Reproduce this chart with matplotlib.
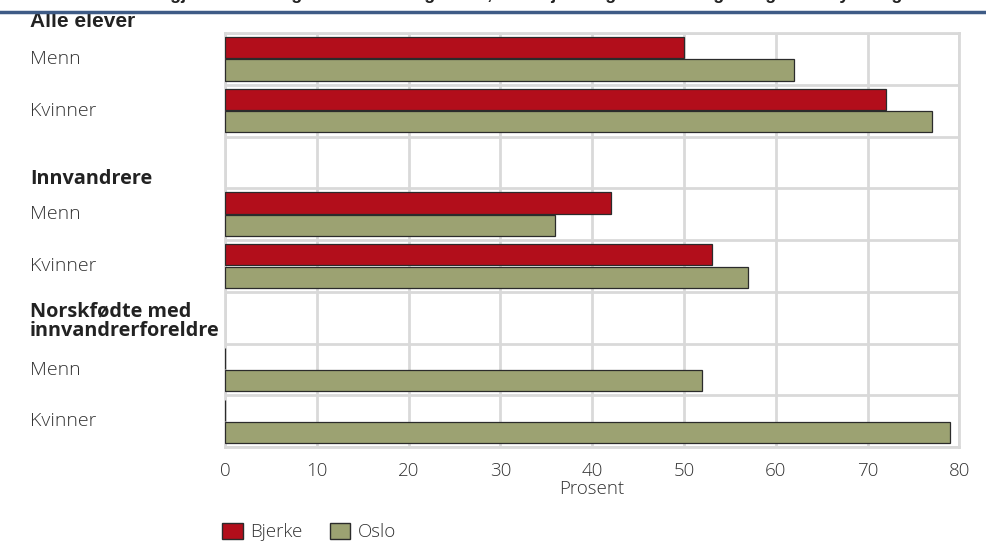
import numpy as np
import matplotlib.pyplot as plt
from matplotlib.lines import Line2D
from matplotlib.patches import Patch
from matplotlib.transforms import blended_transform_factory

# rows top to bottom; blank rows hold the group headings
rows = ['Menn', 'Kvinner', '', 'Menn', 'Kvinner', '', 'Menn', 'Kvinner']
bjerke = [50, 72, np.nan, 42, 53, np.nan, 0, 0]
oslo = [62, 77, np.nan, 36, 57, np.nan, 52, 79]
groups = ['Alle elever', 'Innvandrere', 'Norskfødte med\ninnvandrerforeldre']
group_pos = [-0.73, 2.31, 5.07]
xticks = [0, 10, 20, 30, 40, 50, 60, 70, 80]

RED = '#B20E1B'
GREEN = '#9CA272'
EDGE = '#2b2b2b'
GRID = '#d9d9d9'
TXT = '#333333'

plt.rcParams['font.family'] = ['Open Sans', 'DejaVu Sans']

fig = plt.figure(figsize=(9.87, 5.42), dpi=100)
ax = fig.add_axes([0.228, 0.175, 0.744, 0.764])

y = np.arange(len(rows))
h = 0.41
ax.barh(y - 0.215, bjerke, height=h, color=RED, edgecolor=EDGE, linewidth=0.9, zorder=3)
ax.barh(y + 0.215, oslo, height=h, color=GREEN, edgecolor=EDGE, linewidth=0.9, zorder=3)

ax.set_xlim(0, 80)
ax.set_ylim(len(rows) - 0.5, -0.5)
ax.set_xticks(xticks)
ax.set_xticklabels([str(t) for t in xticks], fontsize=13.5, color=TXT, fontweight='light')
ax.set_yticks(np.arange(len(rows) + 1) - 0.5, minor=True)
ax.set_yticks([])
ax.tick_params(length=0, pad=11)
ax.tick_params(which='minor', length=0)
ax.grid(True, which='major', axis='x', color=GRID, linewidth=2, zorder=0)
ax.grid(True, which='minor', axis='y', color=GRID, linewidth=2, zorder=0)
for s in ax.spines.values():
    s.set_color(GRID)
    s.set_linewidth(2)

ax.set_xlabel('Prosent', fontsize=13.5, color=TXT, labelpad=0, fontweight='light')

bt = blended_transform_factory(fig.transFigure, ax.transData)
for i, r in enumerate(rows):
    if r:
        ax.text(30 / 987, i, r, transform=bt, fontsize=14, color=TXT, va='center', ha='left',
                fontweight='light')
for g, p in zip(groups, group_pos):
    if g == 'Alle elever':
        ax.text(30 / 987, p, g, transform=bt, fontsize=15, color='#222222', va='center',
                ha='left', fontweight='bold', family=['Liberation Sans'])
    else:
        ax.text(30 / 987, p, g, transform=bt, fontsize=14.3, color='#222222', va='center',
                ha='left', fontweight='bold', linespacing=0.95)

# title (cut off at the top of the image) and blue rule
fig.text(0.5, 1 + 1 / 542, 'Andel som har gjennomført og bestått videregående, etter kjønn og innvandringsbakgrunn. Bydel og Oslo',
         ha='center', va='baseline', fontsize=13, fontweight='bold', family=['Liberation Sans'], color='#222222')
fig.add_artist(Line2D([0, 1], [1 - 12 / 542, 1 - 12 / 542], transform=fig.transFigure, color='#3E5B86', linewidth=2.5))

handles = [Patch(facecolor=RED, edgecolor=EDGE, label='Bjerke'),
           Patch(facecolor=GREEN, edgecolor=EDGE, label='Oslo')]
leg = fig.legend(handles=handles, loc='center left', bbox_to_anchor=(222 / 987, 1 - 532 / 542), ncol=2,
                 frameon=False, borderpad=0, borderaxespad=0, fontsize=13.5, handlelength=1.1,
                 handleheight=0.95, handletextpad=0.4, columnspacing=1.45)
for t in leg.get_texts():
    t.set_color(TXT)
    t.set_fontweight('light')

fig.savefig('out.png', dpi=100)
